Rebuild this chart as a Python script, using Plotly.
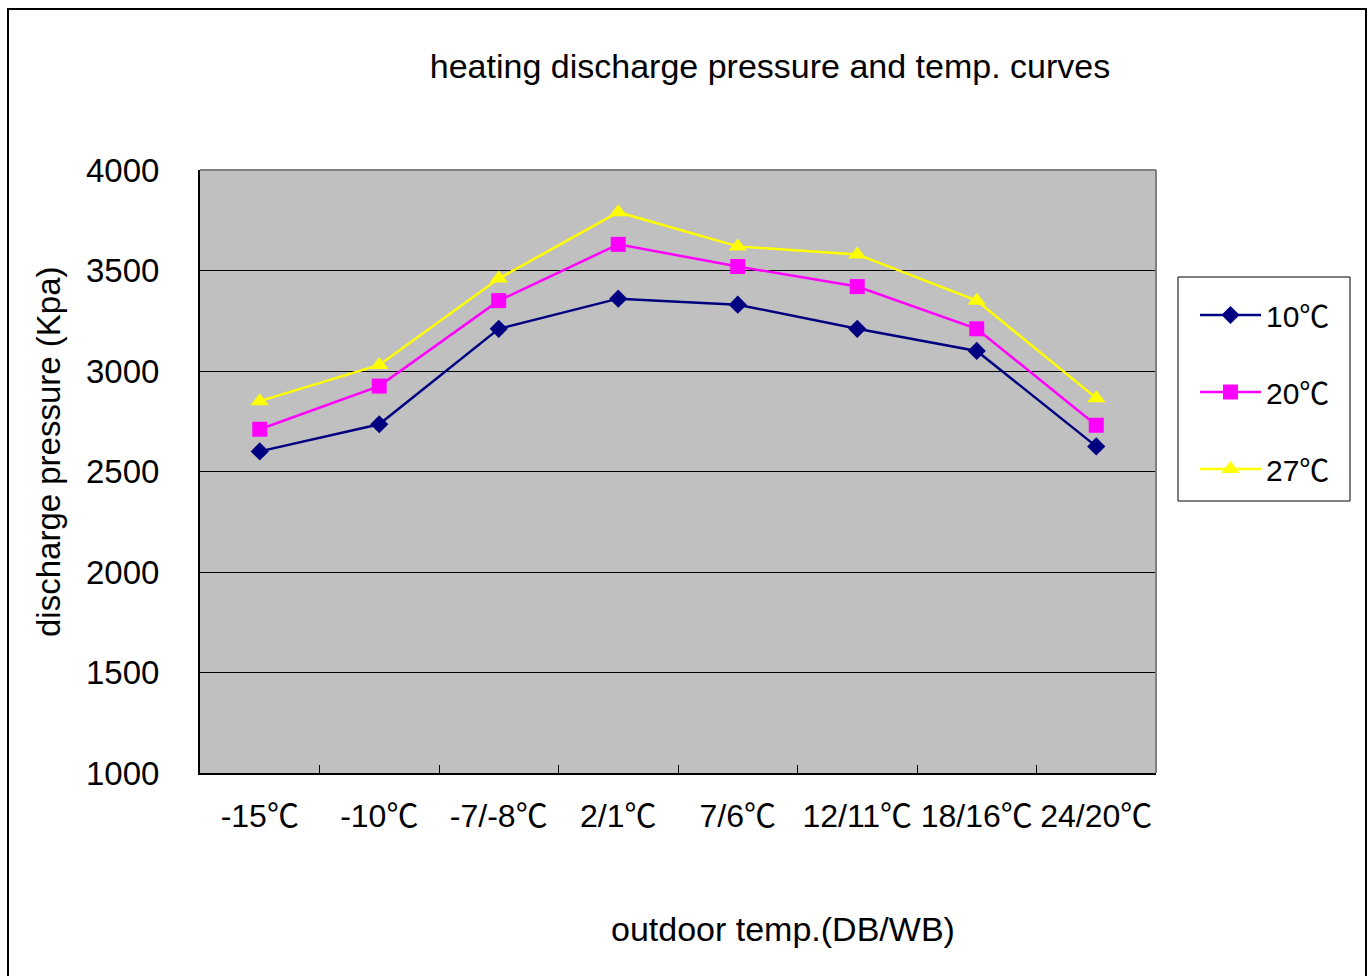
import plotly.graph_objects as go

# Outdoor conditions (DB/WB) on the category axis
categories = ["-15℃", "-10℃", "-7/-8℃", "2/1℃", "7/6℃", "12/11℃", "18/16℃", "24/20℃"]

# Discharge pressure (Kpa) for each indoor temperature
p_10c = [2600, 2735, 3210, 3360, 3330, 3210, 3100, 2625]
p_20c = [2710, 2925, 3350, 3630, 3520, 3420, 3210, 2730]
p_27c = [2850, 3030, 3460, 3790, 3620, 3580, 3350, 2865]

series_names = ["10℃", "20℃", "27℃"]

W, H = 1372, 976
L, R, T, B = 200, 1156, 170, 773  # plot-area pixel box


def px_x(px):
    return (px - L) / (R - L)


def px_y(py):
    return (B - py) / (B - T)


FONT = "Liberation Sans, Arial, Noto Sans CJK SC, sans-serif"

fig = go.Figure()

styles = [
    (p_10c, "#000080", "diamond", 14),
    (p_20c, "#FF00FF", "square", 15),
    (p_27c, "#FFFF00", "triangle-up", 16),
]
for name, (vals, color, sym, size) in zip(series_names, styles):
    fig.add_trace(go.Scatter(
        x=categories, y=vals, name=name, legendgroup=name,
        mode="lines+markers",
        line=dict(color=color, width=2.5),
        marker=dict(symbol=sym, size=size, color=color, line=dict(width=0)),
    ))

fig.update_layout(
    width=W, height=H,
    margin=dict(l=L, r=W - R, t=T, b=H - B),
    paper_bgcolor="white",
    plot_bgcolor="#C0C0C0",
    font=dict(family=FONT, color="black", size=33),
    title=dict(
        text="heating discharge pressure and temp. curves",
        x=px_x(770), xref="paper", xanchor="center",
        y=1 - 66 / H, yref="container", yanchor="middle",
        font=dict(size=34, family=FONT),
    ),
    showlegend=True,
    legend=dict(
        x=px_x(1195), y=px_y(289), xanchor="left", yanchor="top",
        xref="paper", yref="paper",
        bgcolor="rgba(0,0,0,0)", borderwidth=0,
        font=dict(size=30, family=FONT),
        tracegroupgap=35, itemwidth=61,
    ),
)

fig.update_xaxes(
    type="category", range=[-0.5, len(categories) - 0.5],
    tickson="boundaries", ticks="inside", ticklen=8, tickcolor="black",
    showline=True, linecolor="black", linewidth=2,
    showgrid=False, zeroline=False,
    tickangle=0,
    tickfont=dict(size=32, family=FONT),
    ticklabelstandoff=14,
)
fig.update_yaxes(
    range=[1000, 4000], dtick=500, tick0=1000,
    ticks="inside", ticklen=8, tickcolor="black",
    showline=True, linecolor="black", linewidth=2,
    showgrid=True, gridcolor="#000000", gridwidth=1,
    zeroline=False,
    tickfont=dict(size=33, family=FONT),
    ticklabelstandoff=32,
)

# Gray frame on the top and right edges of the plot area
fig.add_shape(type="line", xref="paper", yref="paper", x0=0, x1=1, y0=1, y1=1,
              line=dict(color="#808080", width=2), layer="above")
fig.add_shape(type="line", xref="paper", yref="paper", x0=1, x1=1, y0=0, y1=1,
              line=dict(color="#808080", width=2), layer="above")

# Legend frame
fig.add_shape(type="rect", xref="paper", yref="paper",
              x0=px_x(1178), x1=px_x(1350), y0=px_y(501), y1=px_y(277),
              fillcolor="white", line=dict(color="black", width=1), layer="above")

# Outer chart border
fig.add_shape(type="rect", xref="paper", yref="paper",
              x0=px_x(8), x1=px_x(1366), y0=px_y(9), y1=px_y(990),
              line=dict(color="#000000", width=2), layer="below")

# Axis titles
fig.add_annotation(text="outdoor temp.(DB/WB)", xref="paper", yref="paper",
                   x=px_x(783), y=px_y(929), xanchor="center", yanchor="middle",
                   showarrow=False, font=dict(size=34, family=FONT))
fig.add_annotation(text="discharge pressure (Kpa)", xref="paper", yref="paper",
                   x=px_x(48), y=px_y(452), xanchor="center", yanchor="middle",
                   textangle=-90, showarrow=False, font=dict(size=33, family=FONT))

fig.write_html("out.html")
